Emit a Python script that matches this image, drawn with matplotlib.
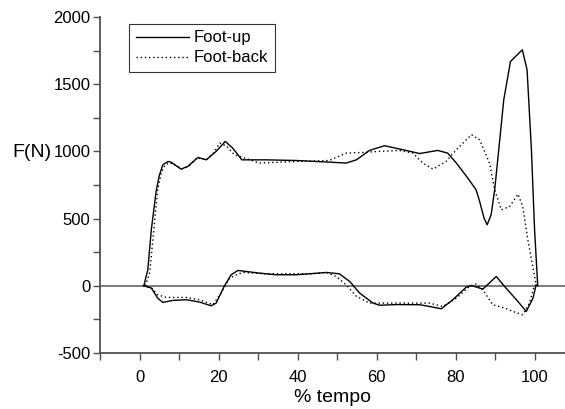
import numpy as np
import matplotlib
matplotlib.use('Agg')
import matplotlib.pyplot as plt
from matplotlib.ticker import MultipleLocator

plt.rcParams['font.family'] = ['Liberation Sans', 'DejaVu Sans']
plt.rcParams['axes.unicode_minus'] = False

# Foot-up, componente vertical
t_up_v = [1.1, 2.1, 3.0, 4.2, 5.0, 5.9, 7.2, 8.0, 10.5, 12.2, 14.8, 16.9, 19.4, 21.7, 23.6, 25.9,
          32.1, 39.7, 48.1, 52.3, 54.9, 58.2, 62.0, 66.7, 70.9, 75.5, 78.0, 80.2, 83.1, 85.2,
          86.1, 87.2, 88.0, 89.0, 89.9, 91.1, 92.2, 93.9, 95.8, 96.9, 98.1, 99.2, 100.0, 100.8]
f_up_v = [0, 119, 420, 702, 820, 900, 925, 920, 868, 888, 955, 937, 1000, 1074, 1024, 937,
          937, 932, 920, 913, 937, 1007, 1042, 1012, 984, 1007, 987, 913, 801, 714,
          627, 504, 454, 528, 714, 1062, 1384, 1669, 1724, 1756, 1607, 1012, 417, 0]

# Foot-back, componente vertical
t_bk_v = [1.5, 2.6, 3.5, 4.6, 5.5, 6.5, 7.6, 8.5, 10.8, 12.5, 14.5, 17.0, 18.8, 20.3, 22.0, 24.0,
          26.6, 30.4, 39.7, 48.0, 52.3, 56.5, 60.8, 65.8, 69.2, 71.7, 74.3, 77.6, 80.2, 84.0,
          86.1, 88.6, 89.9, 91.6, 93.7, 95.8, 97.0, 98.3, 100.0, 100.5]
f_bk_v = [0, 100, 380, 714, 840, 900, 915, 905, 870, 890, 950, 940, 990, 1062, 1040, 975,
          950, 913, 925, 932, 987, 992, 1000, 1007, 987, 913, 868, 925, 1012, 1124,
          1086, 913, 714, 565, 590, 682, 590, 342, 69, 0]

# Foot-up, componente horizontal
t_up_h = [1.0, 3.0, 4.6, 5.9, 8.4, 11.8, 15.2, 18.1, 19.4, 21.5, 23.2, 24.9, 30.4, 34.6,
          39.7, 47.3, 50.6, 53.2, 55.7, 59.1, 60.8, 65.0, 70.9, 73.4, 76.4, 79.3, 82.7,
          84.0, 86.9, 90.3, 92.4, 95.4, 97.9, 99.6, 100.4]
f_up_h = [0, -17, -92, -124, -109, -104, -121, -149, -129, 0, 82, 114, 94, 82,
          82, 99, 89, 32, -54, -129, -145, -140, -141, -154, -171, -104, -10,
          2, -25, 69, -5, -104, -191, -92, 7]

# Foot-back, componente horizontal
t_bk_h = [1.0, 3.0, 4.6, 6.8, 11.8, 15.2, 18.6, 20.5, 22.8, 24.9, 26.2, 32.0, 43.9, 47.3,
          49.8, 52.3, 54.9, 58.2, 62.5, 73.4, 76.8, 80.2, 83.5, 85.2, 86.9, 89.4, 92.8,
          94.5, 97.0, 98.7, 100.0]
f_bk_h = [0, -15, -67, -87, -87, -104, -141, -60, 57, 87, 99, 89, 89, 99,
          69, 7, -79, -129, -129, -129, -154, -92, -5, 13, -30, -141, -170,
          -191, -216, -129, 7]

fig = plt.figure(figsize=(5.65, 4.09), dpi=100)
ax = fig.add_axes([0.177, 0.137, 0.823, 0.8215])

ax.plot(t_up_v, f_up_v, color='black', lw=1.0, label='Foot-up')
ax.plot(t_bk_v, f_bk_v, color='black', lw=1.0, ls=(0, (1, 2)), label='Foot-back')
ax.plot(t_up_h, f_up_h, color='black', lw=1.0)
ax.plot(t_bk_h, f_bk_h, color='black', lw=1.0, ls=(0, (1, 2)))
ax.axhline(0, color='#707070', lw=1.3, zorder=0)

ax.set_xlim(-10, 107.7)
ax.set_ylim(-500, 2000)
ax.xaxis.set_major_locator(MultipleLocator(20))
ax.xaxis.set_minor_locator(MultipleLocator(10))
ax.yaxis.set_major_locator(MultipleLocator(500))
ax.yaxis.set_minor_locator(MultipleLocator(250))

for s in ['top', 'right']:
    ax.spines[s].set_visible(False)
for s in ['left', 'bottom']:
    ax.spines[s].set_color('#505050')
    ax.spines[s].set_linewidth(1.3)

ax.tick_params(which='both', direction='out', length=5, width=1.0, color='#505050',
               labelsize=12)
ax.tick_params(axis='x', pad=7)
ax.tick_params(axis='y', pad=2)

ax.set_xlabel('% tempo', fontsize=14, labelpad=3)
ax.set_ylabel('F(N)', fontsize=14, rotation=0, ha='center', va='center')
ax.yaxis.set_label_coords(-0.146, 0.598)

leg = ax.legend(loc='upper left', bbox_to_anchor=(0.062, 0.98), fontsize=12,
                frameon=True, fancybox=False, edgecolor='black', handlelength=3.2,
                borderpad=0.4, labelspacing=0.3, handletextpad=0.3, borderaxespad=0)
leg.get_frame().set_linewidth(0.8)

fig.savefig('out.png', dpi=100)
